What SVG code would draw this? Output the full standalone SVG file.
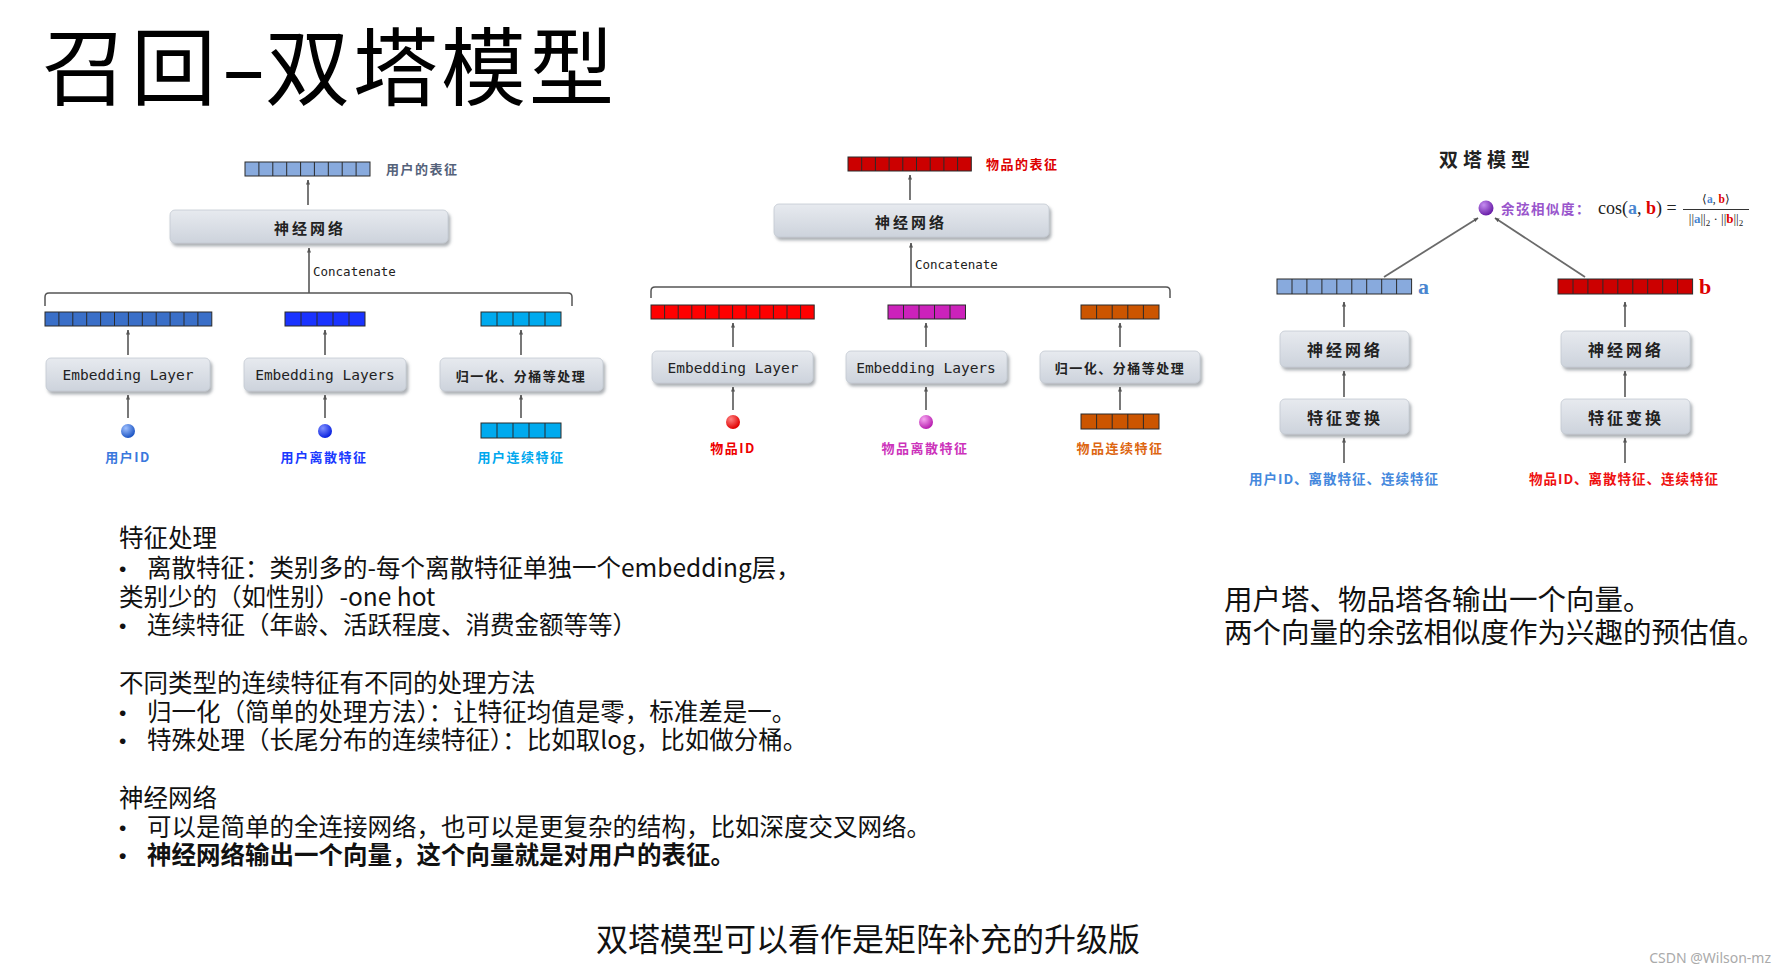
<svg xmlns="http://www.w3.org/2000/svg" width="1784" height="974" viewBox="0 0 1784 974">
<style>
.cjk{font-family:"Noto Sans CJK SC","Noto Sans",sans-serif}
.title{font-size:85px;fill:#000}
.body{font-size:24.5px;fill:#111}
.bul{font-family:"Liberation Sans",sans-serif;font-size:21px;fill:#111}
.bx{font-family:"Noto Sans CJK SC",sans-serif;font-weight:bold;font-size:15px;fill:#222;letter-spacing:3px}
.mono{font-family:"DejaVu Sans Mono",monospace;font-size:14.5px;fill:#222}
.lbl{font-family:"Noto Sans CJK SC",sans-serif;font-weight:bold;font-size:13px;letter-spacing:1.5px}
.arr{stroke:#6a6a6a;stroke-width:1.8;fill:none;marker-end:url(#ah)}
.brk{stroke:#555;stroke-width:1.5;fill:none}
.cell{stroke:#2a2a2a;stroke-width:1}
.box{fill:url(#bg);stroke:#c3c9d2;stroke-width:0.8;filter:url(#sh)}
</style>
<defs>
<marker id="ah" viewBox="0 0 10 10" refX="9" refY="5" markerWidth="5" markerHeight="5" orient="auto" markerUnits="userSpaceOnUse">
<path d="M0,1 L10,5 L0,9 Z" fill="#555"/>
</marker>
<linearGradient id="bg" x1="0" y1="0" x2="0" y2="1">
<stop offset="0" stop-color="#e7eaef"/>
<stop offset="1" stop-color="#cdd3dc"/>
</linearGradient>
<filter id="sh" x="-10%" y="-30%" width="120%" height="170%">
<feDropShadow dx="2" dy="3" stdDeviation="1.5" flood-color="#6b717a" flood-opacity="0.55"/>
</filter>
<radialGradient id="gBlue" cx="0.35" cy="0.3" r="0.7"><stop offset="0" stop-color="#9fc0ff"/><stop offset="1" stop-color="#1d56c4"/></radialGradient>
<radialGradient id="gBlue2" cx="0.35" cy="0.3" r="0.7"><stop offset="0" stop-color="#7f8fff"/><stop offset="1" stop-color="#0a22e0"/></radialGradient>
<radialGradient id="gRed" cx="0.35" cy="0.3" r="0.7"><stop offset="0" stop-color="#ff8080"/><stop offset="1" stop-color="#e00000"/></radialGradient>
<radialGradient id="gMag" cx="0.35" cy="0.3" r="0.7"><stop offset="0" stop-color="#f7a6f0"/><stop offset="1" stop-color="#b81fb0"/></radialGradient>
<radialGradient id="gPur" cx="0.35" cy="0.3" r="0.7"><stop offset="0" stop-color="#c58cf0"/><stop offset="1" stop-color="#6a1fa8"/></radialGradient>
</defs>
<rect width="1784" height="974" fill="#fff"/>

<g id="title" class="cjk title">
<text x="42" y="99" letter-spacing="4">召回</text>
<text transform="translate(220,99) scale(1.6,1)">-</text>
<text x="265" y="99" letter-spacing="3">双塔模型</text>
</g>

<!-- User tower -->
<g id="user-repr">
<rect class="cell" x="245" y="162" width="125" height="14" fill="#88aadd"/>
<path class="cell" d="M258.9,162V176M272.8,162V176M286.7,162V176M300.6,162V176M314.4,162V176M328.3,162V176M342.2,162V176M356.1,162V176"/>
<text class="lbl" x="386" y="168" dominant-baseline="central" fill="#55627a">用户的表征</text>
</g>
<g id="user-nn"><rect class="box" x="170" y="210" width="278" height="33" rx="5"/><text class="bx" x="310" y="227" text-anchor="middle" dominant-baseline="central">神经网络</text></g>
<g id="user-bar1">
<rect class="cell" x="45" y="312" width="166.8" height="14" fill="#3a6fc8"/>
<path class="cell" d="M58.9,312V326M72.8,312V326M86.7,312V326M100.6,312V326M114.5,312V326M128.4,312V326M142.3,312V326M156.2,312V326M170.1,312V326M184,312V326M197.9,312V326"/>
</g>
<g id="user-bar2">
<rect class="cell" x="285" y="312" width="80" height="14" fill="#1a33ff"/>
<path class="cell" d="M301,312V326M317,312V326M333,312V326M349,312V326"/>
</g>
<g id="user-bar3">
<rect class="cell" x="481" y="312" width="80" height="14" fill="#00aaee"/>
<path class="cell" d="M497,312V326M513,312V326M529,312V326M545,312V326"/>
</g>
<g id="user-emb1"><rect class="box" x="46" y="358" width="164" height="33" rx="5"/><text class="mono" x="128" y="375" text-anchor="middle" dominant-baseline="central">Embedding Layer</text></g>
<g id="user-emb2"><rect class="box" x="244" y="358" width="162" height="33" rx="5"/><text class="mono" x="325" y="375" text-anchor="middle" dominant-baseline="central">Embedding Layers</text></g>
<g id="user-norm"><rect class="box" x="440" y="358" width="163" height="33" rx="5"/><text class="bx" x="521" y="375" text-anchor="middle" dominant-baseline="central" style="font-size:13px;letter-spacing:1.5px">归一化、分桶等处理</text></g>
<g id="user-id"><circle cx="128" cy="431" r="7" fill="url(#gBlue)"/><text class="lbl" x="128" y="456" text-anchor="middle" dominant-baseline="central" fill="#3a78dd">用户ID</text></g>
<g id="user-disc"><circle cx="325" cy="431" r="7" fill="url(#gBlue2)"/><text class="lbl" x="324" y="456" text-anchor="middle" dominant-baseline="central" fill="#1a3aff">用户离散特征</text></g>
<g id="user-cont">
<rect class="cell" x="481" y="423" width="80" height="15" fill="#00aaee"/>
<path class="cell" d="M497,423V438M513,423V438M529,423V438M545,423V438"/>
<text class="lbl" x="521" y="456" text-anchor="middle" dominant-baseline="central" fill="#00a8ee">用户连续特征</text>
</g>

<!-- Item tower -->
<g id="item-repr">
<rect class="cell" x="848" y="157" width="123.3" height="14" fill="#cc0000"/>
<path class="cell" d="M861.7,157V171M875.4,157V171M889.1,157V171M902.8,157V171M916.5,157V171M930.2,157V171M943.9,157V171M957.6,157V171"/>
<text class="lbl" x="986" y="163" dominant-baseline="central" fill="#dd0000">物品的表征</text>
</g>
<g id="item-nn"><rect class="box" x="774" y="204" width="275" height="33" rx="5"/><text class="bx" x="911" y="221" text-anchor="middle" dominant-baseline="central">神经网络</text></g>
<g id="item-bar1">
<rect class="cell" x="651" y="305" width="163.2" height="14" fill="#ff0000"/>
<path class="cell" d="M664.6,305V319M678.2,305V319M691.8,305V319M705.4,305V319M719,305V319M732.6,305V319M746.2,305V319M759.8,305V319M773.4,305V319M787,305V319M800.6,305V319"/>
</g>
<g id="item-bar2">
<rect class="cell" x="888" y="305" width="77.5" height="14" fill="#cc22bb"/>
<path class="cell" d="M903.5,305V319M919,305V319M934.5,305V319M950,305V319"/>
</g>
<g id="item-bar3">
<rect class="cell" x="1081" y="305" width="78" height="14" fill="#cc5500"/>
<path class="cell" d="M1096.6,305V319M1112.2,305V319M1127.8,305V319M1143.4,305V319"/>
</g>
<g id="item-emb1"><rect class="box" x="652" y="351" width="161" height="32" rx="5"/><text class="mono" x="733" y="367.5" text-anchor="middle" dominant-baseline="central">Embedding Layer</text></g>
<g id="item-emb2"><rect class="box" x="846" y="351" width="161" height="32" rx="5"/><text class="mono" x="926" y="367.5" text-anchor="middle" dominant-baseline="central">Embedding Layers</text></g>
<g id="item-norm"><rect class="box" x="1040" y="351" width="160" height="32" rx="5"/><text class="bx" x="1120" y="367.5" text-anchor="middle" dominant-baseline="central" style="font-size:13px;letter-spacing:1.5px">归一化、分桶等处理</text></g>
<g id="item-id"><circle cx="733" cy="422" r="7" fill="url(#gRed)"/><text class="lbl" x="733" y="447" text-anchor="middle" dominant-baseline="central" fill="#ee0000">物品ID</text></g>
<g id="item-disc"><circle cx="926" cy="422" r="7" fill="url(#gMag)"/><text class="lbl" x="925" y="447" text-anchor="middle" dominant-baseline="central" fill="#cc33bb">物品离散特征</text></g>
<g id="item-cont">
<rect class="cell" x="1081" y="414" width="78" height="15" fill="#cc5500"/>
<path class="cell" d="M1096.6,414V429M1112.2,414V429M1127.8,414V429M1143.4,414V429"/>
<text class="lbl" x="1120" y="447" text-anchor="middle" dominant-baseline="central" fill="#dd6611">物品连续特征</text>
</g>

<!-- Two-tower -->
<g id="tt-title"><text class="cjk" x="1487" y="158" text-anchor="middle" dominant-baseline="central" style="font-weight:bold;font-size:19px;letter-spacing:5px;fill:#222">双塔模型</text></g>
<g id="tt-cos">
<circle cx="1486" cy="208" r="7.5" fill="url(#gPur)"/>
<text class="lbl" x="1501" y="208" dominant-baseline="central" fill="#9955cc" style="font-size:13.5px">余弦相似度：</text>
<text x="1598" y="214" font-family="Liberation Serif,serif" font-size="18" fill="#222">cos(<tspan fill="#4a86d0" font-weight="bold">a</tspan>, <tspan fill="#dd0000" font-weight="bold">b</tspan>) =</text>
<text x="1716" y="203" text-anchor="middle" font-family="Liberation Serif,serif" font-size="11.5" fill="#222">⟨<tspan fill="#4a86d0" font-weight="bold">a</tspan>, <tspan fill="#dd0000" font-weight="bold">b</tspan>⟩</text>
<line x1="1683" y1="209.5" x2="1749" y2="209.5" stroke="#333" stroke-width="1"/>
<text x="1716" y="223" text-anchor="middle" font-family="Liberation Serif,serif" font-size="13" fill="#222">||<tspan fill="#4a86d0" font-weight="bold">a</tspan>||<tspan font-size="9" dy="3">2</tspan><tspan dy="-3"> · ||</tspan><tspan fill="#dd0000" font-weight="bold">b</tspan>||<tspan font-size="9" dy="3">2</tspan></text>
</g>
<g id="tt-a">
<rect class="cell" x="1277" y="279" width="134.6" height="15" fill="#88aadd"/>
<path class="cell" d="M1292,279V294M1306.9,279V294M1321.9,279V294M1336.8,279V294M1351.8,279V294M1366.7,279V294M1381.7,279V294M1396.6,279V294"/>
<text x="1418" y="294" font-family="Liberation Serif,serif" font-weight="bold" font-size="22" fill="#4a86d0">a</text>
</g>
<g id="tt-b">
<rect class="cell" x="1558" y="279" width="134.6" height="15" fill="#cc0000"/>
<path class="cell" d="M1573,279V294M1587.9,279V294M1602.9,279V294M1617.8,279V294M1632.8,279V294M1647.7,279V294M1662.7,279V294M1677.6,279V294"/>
<text x="1699" y="294" font-family="Liberation Serif,serif" font-weight="bold" font-size="22" fill="#dd0000">b</text>
</g>
<g id="tt-nn-l"><rect class="box" x="1280" y="331" width="129" height="36" rx="5"/><text class="bx" x="1345" y="349" text-anchor="middle" dominant-baseline="central" style="font-size:16px">神经网络</text></g>
<g id="tt-nn-r"><rect class="box" x="1561" y="331" width="129" height="36" rx="5"/><text class="bx" x="1626" y="349" text-anchor="middle" dominant-baseline="central" style="font-size:16px">神经网络</text></g>
<g id="tt-ft-l"><rect class="box" x="1280" y="399" width="129" height="35" rx="5"/><text class="bx" x="1345" y="416.5" text-anchor="middle" dominant-baseline="central" style="font-size:16px">特征变换</text></g>
<g id="tt-ft-r"><rect class="box" x="1561" y="399" width="129" height="35" rx="5"/><text class="bx" x="1626" y="416.5" text-anchor="middle" dominant-baseline="central" style="font-size:16px">特征变换</text></g>
<g id="tt-in-l"><text class="lbl" x="1344" y="478" text-anchor="middle" dominant-baseline="central" fill="#4488dd" style="font-size:13.5px;letter-spacing:1px">用户ID、离散特征、连续特征</text></g>
<g id="tt-in-r"><text class="lbl" x="1624" y="478" text-anchor="middle" dominant-baseline="central" fill="#ee1111" style="font-size:13.5px;letter-spacing:1px">物品ID、离散特征、连续特征</text></g>

<!-- Connectors -->
<g id="connectors">
<line class="arr" x1="308" y1="205" x2="308" y2="180"/>
<line class="arr" x1="309" y1="293" x2="309" y2="248"/>
<path class="brk" d="M45,306V297Q45,293 49,293H568Q572,293 572,297V306"/>
<line class="arr" x1="128" y1="355" x2="128" y2="330"/>
<line class="arr" x1="325" y1="355" x2="325" y2="330"/>
<line class="arr" x1="521" y1="355" x2="521" y2="330"/>
<line class="arr" x1="128" y1="418" x2="128" y2="395"/>
<line class="arr" x1="325" y1="418" x2="325" y2="395"/>
<line class="arr" x1="521" y1="418" x2="521" y2="395"/>

<line class="arr" x1="910" y1="200" x2="910" y2="175"/>
<line class="arr" x1="911" y1="287" x2="911" y2="243"/>
<path class="brk" d="M651,298V291Q651,287 655,287H1166Q1170,287 1170,291V298"/>
<line class="arr" x1="733" y1="347" x2="733" y2="323"/>
<line class="arr" x1="926" y1="347" x2="926" y2="323"/>
<line class="arr" x1="1120" y1="347" x2="1120" y2="323"/>
<line class="arr" x1="733" y1="410" x2="733" y2="387"/>
<line class="arr" x1="926" y1="410" x2="926" y2="387"/>
<line class="arr" x1="1120" y1="410" x2="1120" y2="387"/>

<line class="arr" x1="1384" y1="277" x2="1478" y2="218"/>
<line class="arr" x1="1585" y1="277" x2="1495" y2="218"/>
<line class="arr" x1="1344" y1="327" x2="1344" y2="302"/>
<line class="arr" x1="1625" y1="327" x2="1625" y2="302"/>
<line class="arr" x1="1344" y1="397" x2="1344" y2="371"/>
<line class="arr" x1="1625" y1="397" x2="1625" y2="371"/>
<line class="arr" x1="1344" y1="463" x2="1344" y2="438"/>
<line class="arr" x1="1625" y1="463" x2="1625" y2="438"/>
</g>
<g id="concat-labels">
<text class="mono" x="313" y="271" dominant-baseline="central" style="font-size:12.5px">Concatenate</text>
<text class="mono" x="915" y="264" dominant-baseline="central" style="font-size:12.5px">Concatenate</text>
</g>

<!-- Body text -->
<g id="notes" class="cjk body">
<text x="119" y="546.6">特征处理</text>
<text class="bul" x="119" y="575.6">•</text><text x="147" y="576.6">离散特征：类别多的-每个离散特征单独一个embedding层，</text>
<text x="119" y="605.6">类别少的（如性别）-one hot</text>
<text class="bul" x="119" y="632.6">•</text><text x="147" y="633.6">连续特征（年龄、活跃程度、消费金额等等）</text>
<text x="119" y="691.6">不同类型的连续特征有不同的处理方法</text>
<text class="bul" x="119" y="719.6">•</text><text x="147" y="720.6">归一化（简单的处理方法）：让特征均值是零，标准差是一。</text>
<text class="bul" x="119" y="747.6">•</text><text x="147" y="748.6">特殊处理（长尾分布的连续特征）：比如取log，比如做分桶。</text>
<text x="119" y="806.6">神经网络</text>
<text class="bul" x="119" y="834.6">•</text><text x="147" y="835.6">可以是简单的全连接网络，也可以是更复杂的结构，比如深度交叉网络。</text>
<text class="bul" x="119" y="862.6" font-weight="bold">•</text><text x="147" y="863.6" font-weight="bold">神经网络输出一个向量，这个向量就是对用户的表征。</text>
</g>
<g id="summary" class="cjk" style="font-size:28.5px;fill:#111">
<text x="1224" y="610">用户塔、物品塔各输出一个向量。</text>
<text x="1224" y="643">两个向量的余弦相似度作为兴趣的预估值。</text>
</g>
<g id="footer"><text class="cjk" x="868" y="951" text-anchor="middle" style="font-size:32px;fill:#111">双塔模型可以看作是矩阵补充的升级版</text></g>
<g id="watermark"><text x="1771" y="963" text-anchor="end" font-family="Noto Sans,sans-serif" font-size="14" fill="#aaaaaa">CSDN @Wilson-mz</text></g>
</svg>
